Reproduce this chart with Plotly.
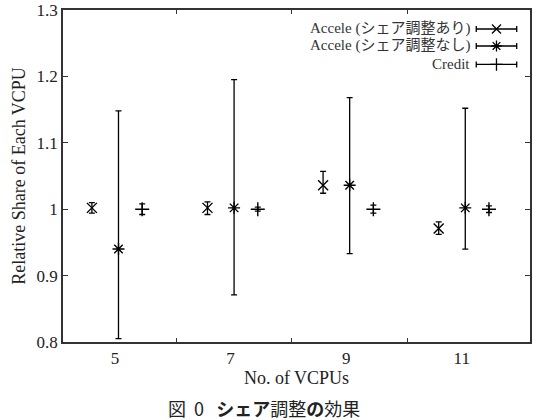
import plotly.graph_objects as go

vcpus = ["5", "7", "9", "11"]
adj_mean = [1.002, 1.002, 1.036, 0.971]
adj_plus = [0.008, 0.009, 0.021, 0.010]
adj_minus = [0.008, 0.010, 0.012, 0.009]
noadj_mean = [0.940, 1.002, 1.036, 1.002]
noadj_plus = [0.208, 0.193, 0.132, 0.150]
noadj_minus = [0.135, 0.131, 0.103, 0.062]
credit_mean = [1.0, 1.0, 1.0, 1.0]
credit_err = [0.008, 0.003, 0.006, 0.005]

names = ["Accele (シェア調整あり)", "Accele (シェア調整なし)", "Credit"]
symbols = ["x-thin-open", "asterisk-open", "cross-thin-open"]

idx = list(range(len(vcpus)))
off = [-0.23, 0.0, 0.205]
means = [adj_mean, noadj_mean, credit_mean]
plus = [adj_plus, noadj_plus, credit_err]
minus = [adj_minus, noadj_minus, credit_err]

SERIF = "Liberation Serif"
fig = go.Figure()
for k in range(3):
    fig.add_trace(go.Scatter(
        x=[i + off[k] for i in idx], y=means[k], mode="markers",
        marker=dict(symbol=symbols[k], size=10, color="black",
                    line=dict(color="black", width=1.4)),
        error_y=dict(type="data", symmetric=False, array=plus[k], arrayminus=minus[k],
                     color="black", thickness=1.3, width=3),
        showlegend=False, name=names[k]))

# custom legend (text right-aligned, sample on right as in gnuplot)
leg_y = [1.2714, 1.2458, 1.218]
for k in range(3):
    fig.add_trace(go.Scatter(
        x=[3.27], y=[leg_y[k]], mode="markers",
        marker=dict(symbol=symbols[k], size=9, color="black",
                    line=dict(color="black", width=1.3)),
        error_x=dict(type="data", array=[0.175], color="black", thickness=1.3, width=3),
        showlegend=False, hoverinfo="skip"))
    fig.add_annotation(x=3.06, y=leg_y[k], xref="x", yref="y", text=names[k],
                       showarrow=False, xanchor="right", yanchor="middle",
                       font=dict(family="Liberation Serif, Noto Sans CJK JP", size=15, color="#333"))

fig.add_annotation(x=0.43, y=-0.20, xref="paper", yref="paper",
                   text="図&nbsp;&nbsp;0&nbsp;&nbsp;&nbsp;<b>シェア</b>調整<b>の</b>効果", showarrow=False,
                   font=dict(family="Noto Sans CJK JP", size=18, color="#222"),
                   xanchor="center", yanchor="middle")

boundaries = [0.5, 1.5, 2.5]
fig.update_xaxes(range=[-0.48, 3.56], tickvals=[i - 0.03 for i in idx], ticktext=vcpus,
                 ticks="", showgrid=False, zeroline=False,
                 showline=True, linecolor="#333", linewidth=1.5, mirror=True,
                 minor=dict(tickvals=boundaries, ticks="inside", ticklen=4,
                            tickcolor="#333", showgrid=False),
                 tickfont=dict(family=SERIF, size=17, color="#222"),
                 title=dict(text="No. of VCPUs", font=dict(family=SERIF, size=18, color="#222"),
                            standoff=2))
fig.update_yaxes(range=[0.8, 1.3], tickvals=[0.8, 0.9, 1.0, 1.1, 1.2, 1.3],
                 ticktext=["0.8", "0.9", "1", "1.1", "1.2", "1.3"],
                 ticks="inside", ticklen=5, tickcolor="#333", showgrid=False, zeroline=False,
                 showline=True, linecolor="#333", linewidth=1.5, mirror="ticks",
                 tickfont=dict(family=SERIF, size=17, color="#222"),
                 title=dict(text="Relative Share of Each VCPU",
                            font=dict(family=SERIF, size=18, color="#222"), standoff=6))

fig.update_layout(
    xaxis2=dict(overlaying="x", matches="x", side="top", anchor="y",
                showticklabels=False, ticks="inside", ticklen=4, tickwidth=1.3,
                tickcolor="#333", showgrid=False, zeroline=False,
                showline=False, tickvals=boundaries),
    width=533, height=420, margin=dict(l=63, r=1, t=10, b=78),
    paper_bgcolor="white", plot_bgcolor="white")
fig.add_trace(go.Scatter(x=[], y=[], xaxis="x2", showlegend=False, hoverinfo="skip"))
fig.write_html("out.html")
